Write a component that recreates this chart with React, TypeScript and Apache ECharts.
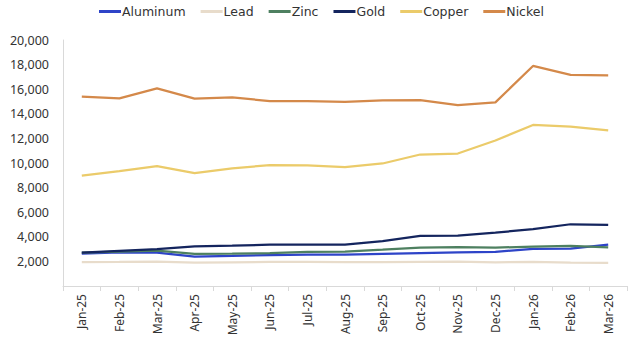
import React, { useEffect, useRef } from "react";
import * as echarts from "echarts";

const categories = ["Jan-25","Feb-25","Mar-25","Apr-25","May-25","Jun-25","Jul-25","Aug-25","Sep-25","Oct-25","Nov-25","Dec-25","Jan-26","Feb-26","Mar-26"];
const aluminum = [2630,2740,2710,2390,2440,2520,2550,2550,2610,2680,2740,2770,3020,3040,3360];
const lead = [1950,1960,1990,1900,1930,1960,1960,1950,1950,1970,1990,1930,1960,1900,1890];
const zinc = [2710,2790,2870,2610,2630,2680,2770,2790,2950,3120,3170,3120,3200,3260,3140];
const gold = [2710,2850,2990,3230,3280,3360,3360,3360,3640,4070,4100,4340,4620,5020,4970];
const copper = [8980,9340,9750,9180,9560,9830,9800,9670,9960,10690,10770,11830,13090,12950,12650];
const nickel = [15390,15250,16070,15230,15330,15040,15040,14960,15090,15120,14710,14930,17890,17160,17130];

const seriesDefs = [
  { name: "Aluminum", data: aluminum, color: "#2E44C8" },
  { name: "Lead", data: lead, color: "#E8DCCB" },
  { name: "Zinc", data: zinc, color: "#4E8060" },
  { name: "Gold", data: gold, color: "#14255E" },
  { name: "Copper", data: copper, color: "#EBCB6A" },
  { name: "Nickel", data: nickel, color: "#D4894A" },
];

const FONT = "Noto Sans";

export default function App() {
  const ref = useRef<HTMLDivElement>(null);
  useEffect(() => {
    if (!ref.current) return;
    const chart = echarts.init(ref.current, undefined, { renderer: "svg" });
    chart.setOption({
      animation: false,
      legend: {
        top: 5,
        left: 99,
        padding: 0,
        icon: "rect",
        itemWidth: 22,
        itemHeight: 3,
        itemGap: 15,
        textStyle: { fontFamily: "DejaVu Sans", fontSize: 12.5, color: "#333", padding: [0, 0, 0, -4] },
        data: seriesDefs.map((s) => s.name),
      },
      grid: { left: 63, right: 5, top: 40, bottom: 70, containLabel: false },
      xAxis: {
        type: "category",
        data: categories,
        boundaryGap: true,
        axisLine: { lineStyle: { color: "#d9d9d9" } },
        axisTick: { show: true, length: 5, lineStyle: { color: "#d9d9d9" } },
        axisLabel: { rotate: 90, fontFamily: FONT, fontSize: 12, color: "#333", margin: 8 },
      },
      yAxis: {
        type: "value",
        min: 0,
        max: 20000,
        interval: 2000,
        splitLine: { show: false },
        axisLine: { show: true, lineStyle: { color: "#d9d9d9" } },
        axisTick: { show: false },
        axisLabel: {
          fontFamily: FONT,
          fontSize: 12.5,
          color: "#333",
          margin: 14,
          formatter: (v: number) => (v === 0 ? "" : v.toLocaleString("en-US")),
        },
      },
      series: seriesDefs.map((s) => ({
        name: s.name,
        type: "line",
        data: s.data,
        showSymbol: false,
        symbol: "none",
        color: s.color,
        lineStyle: { width: 2.25, color: s.color },
      })),
    });
    return () => chart.dispose();
  }, []);
  return <div ref={ref} style={{ width: 632, height: 356, position: "absolute", left: 0, top: 0 }} />;
}
